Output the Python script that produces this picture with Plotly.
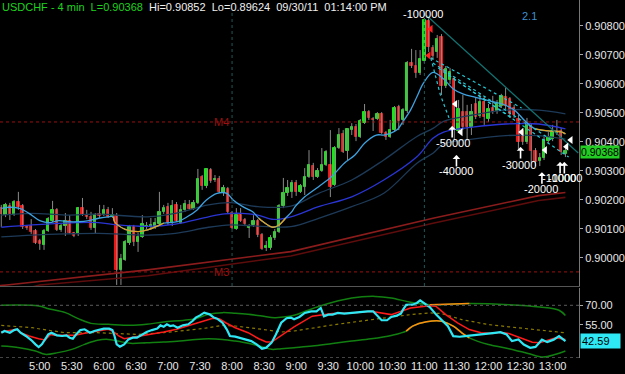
import plotly.graph_objects as go
from datetime import datetime, timedelta

DAY = "2011-09-30"

# ---------------- price bars (4-min, first bar 04:24) ----------------
first_bar = datetime(2011, 9, 30, 4, 24)
bar_minutes = 4

opens = [0.90171,0.90147,0.90178,0.90147,0.90192,0.90178,0.90109,0.90109,0.90092,0.90058,
         0.90044,0.90092,0.90127,0.90165,0.90096,0.90109,0.90127,0.90085,0.90082,0.90171,
         0.90147,0.90140,0.90102,0.90151,0.90147,0.90165,0.90144,0.90144,0.89958,0.89992,
         0.90051,0.90106,0.90054,0.90071,0.90106,0.90106,0.90106,0.90116,0.90158,0.90175,
         0.90120,0.90182,0.90120,0.90165,0.90182,0.90168,0.90189,0.90278,0.90247,0.90302,
         0.90268,0.90271,0.90223,0.90237,0.90154,0.90099,0.90147,0.90130,0.90102,0.90113,
         0.90127,0.90078,0.90034,0.90034,0.90068,0.90089,0.90178,0.90223,0.90227,0.90258,
         0.90227,0.90244,0.90278,0.90316,0.90278,0.90299,0.90320,0.90320,0.90251,0.90378,
         0.90427,0.90368,0.90440,0.90451,0.90416,0.90464,0.90502,0.90478,0.90478,0.90496,
         0.90430,0.90416,0.90440,0.90520,0.90475,0.90506,0.90671,0.90661,0.90637,0.90678,
         0.90816,0.90723,0.90709,0.90761,0.90592,0.90613,0.90616,0.90437,0.90502,0.90502,
         0.90451,0.90530,0.90489,0.90537,0.90478,0.90516,0.90506,0.90523,0.90554,0.90547,
         0.90516,0.90478,0.90437,0.90399,0.90454,0.90368,0.90334,0.90344,0.90402,0.90409,
         0.90430,0.90437,0.90358]
highs = [0.90182,0.90189,0.90189,0.90199,0.90227,0.90185,0.90113,0.90133,0.90099,0.90065,
         0.90099,0.90140,0.90196,0.90171,0.90116,0.90154,0.90147,0.90089,0.90175,0.90206,
         0.90165,0.90158,0.90154,0.90182,0.90182,0.90175,0.90171,0.90154,0.90013,0.90061,
         0.90113,0.90113,0.90085,0.90147,0.90123,0.90137,0.90137,0.90227,0.90182,0.90189,
         0.90199,0.90192,0.90182,0.90199,0.90199,0.90199,0.90306,0.90285,0.90309,0.90309,
         0.90285,0.90282,0.90251,0.90244,0.90161,0.90171,0.90171,0.90137,0.90116,0.90147,
         0.90133,0.90085,0.90058,0.90078,0.90099,0.90185,0.90275,0.90268,0.90268,0.90268,
         0.90254,0.90309,0.90371,0.90327,0.90309,0.90378,0.90371,0.90440,0.90385,0.90447,
         0.90440,0.90447,0.90464,0.90461,0.90478,0.90530,0.90509,0.90485,0.90502,0.90502,
         0.90437,0.90475,0.90523,0.90527,0.90516,0.90678,0.90720,0.90716,0.90716,0.90826,
         0.90826,0.90733,0.90768,0.90771,0.90661,0.90654,0.90623,0.90544,0.90561,0.90527,
         0.90530,0.90551,0.90568,0.90554,0.90530,0.90558,0.90544,0.90565,0.90585,0.90554,
         0.90527,0.90492,0.90447,0.90482,0.90464,0.90378,0.90361,0.90423,0.90433,0.90458,
         0.90475,0.90447,0.90389]
lows = [0.90106,0.90140,0.90130,0.90144,0.90165,0.90099,0.90096,0.90082,0.90047,0.90027,
        0.90027,0.90089,0.90123,0.90092,0.90089,0.90075,0.90082,0.90071,0.90075,0.90144,
        0.90133,0.90096,0.90085,0.90137,0.90144,0.90137,0.90137,0.89906,0.89906,0.89989,
        0.90044,0.90040,0.90020,0.90068,0.90099,0.90102,0.90099,0.90109,0.90151,0.90113,
        0.90109,0.90123,0.90116,0.90158,0.90165,0.90165,0.90185,0.90234,0.90240,0.90258,
        0.90261,0.90223,0.90213,0.90154,0.90099,0.90096,0.90123,0.90109,0.90068,0.90106,
        0.90071,0.90027,0.90023,0.90027,0.90061,0.90085,0.90171,0.90213,0.90206,0.90213,
        0.90223,0.90216,0.90275,0.90268,0.90275,0.90296,0.90316,0.90209,0.90247,0.90375,
        0.90361,0.90337,0.90423,0.90402,0.90413,0.90461,0.90475,0.90437,0.90475,0.90427,
        0.90406,0.90413,0.90437,0.90440,0.90458,0.90499,0.90654,0.90620,0.90630,0.90671,
        0.90709,0.90682,0.90689,0.90561,0.90585,0.90599,0.90406,0.90430,0.90440,0.90406,
        0.90423,0.90478,0.90482,0.90458,0.90468,0.90496,0.90496,0.90516,0.90509,0.90482,
        0.90482,0.90371,0.90389,0.90392,0.90327,0.90316,0.90316,0.90337,0.90396,0.90402,
        0.90423,0.90354,0.90347]
closes = [0.90151,0.90182,0.90147,0.90192,0.90175,0.90106,0.90102,0.90089,0.90051,0.90047,
          0.90092,0.90133,0.90165,0.90096,0.90109,0.90127,0.90085,0.90075,0.90171,0.90147,
          0.90140,0.90102,0.90147,0.90144,0.90165,0.90140,0.90147,0.89958,0.89996,0.90054,
          0.90106,0.90054,0.90071,0.90116,0.90109,0.90113,0.90120,0.90158,0.90171,0.90120,
          0.90178,0.90127,0.90165,0.90185,0.90168,0.90189,0.90271,0.90247,0.90306,0.90265,
          0.90271,0.90227,0.90240,0.90158,0.90102,0.90147,0.90127,0.90116,0.90109,0.90127,
          0.90078,0.90030,0.90040,0.90068,0.90089,0.90178,0.90223,0.90240,0.90258,0.90227,
          0.90247,0.90278,0.90320,0.90278,0.90299,0.90320,0.90365,0.90244,0.90378,0.90423,
          0.90365,0.90444,0.90451,0.90416,0.90471,0.90502,0.90482,0.90475,0.90496,0.90430,
          0.90416,0.90440,0.90516,0.90471,0.90509,0.90671,0.90661,0.90637,0.90685,0.90820,
          0.90727,0.90696,0.90754,0.90592,0.90651,0.90640,0.90444,0.90513,0.90451,0.90451,
          0.90502,0.90485,0.90537,0.90485,0.90513,0.90502,0.90530,0.90558,0.90523,0.90496,
          0.90492,0.90399,0.90399,0.90461,0.90368,0.90330,0.90344,0.90406,0.90416,0.90437,
          0.90433,0.90365,0.90368]

# ---------------- overlay lines on price panel ----------------
fast_t = ["04:24","04:32","04:41","04:50","05:00","05:09","05:18","05:27","05:36","05:46","05:55",
          "06:04","06:09","06:10","06:20","06:32","06:41","06:50","06:56","07:09","07:18","07:27",
          "07:36","07:46","07:55","08:01","08:10","08:19","08:25","08:29","08:38","08:44","08:50",
          "08:56","08:59","09:08","09:21","09:33","09:45","09:55","10:04","10:15","10:22","10:28",
          "10:35","10:39","10:47","10:53","10:59","11:08","11:18","11:27","11:36","11:48","12:01",
          "12:13","12:25","12:34","12:44","12:56","13:08","13:12"]
fast_v = [0.90170,0.90174,0.90170,0.90153,0.90128,0.90121,0.90128,0.90124,0.90124,0.90128,0.90136,
          0.90141,0.90141,0.90124,0.90098,0.90090,0.90096,0.90109,0.90119,0.90124,0.90141,0.90164,
          0.90199,0.90222,0.90222,0.90199,0.90176,0.90159,0.90136,0.90124,0.90105,0.90113,0.90136,
          0.90159,0.90176,0.90210,0.90245,0.90279,0.90326,0.90354,0.90395,0.90423,0.90423,0.90429,
          0.90443,0.90464,0.90509,0.90555,0.90601,0.90639,0.90616,0.90582,0.90565,0.90553,0.90541,
          0.90530,0.90507,0.90472,0.90444,0.90437,0.90434,0.90427]
fast_falling = [("06:09", "06:56"), ("08:25", "08:50"), ("12:44", "13:12")]

mid_t = ["04:24","04:53","05:24","05:55","06:13","06:41","07:07","07:38","07:53","08:09","08:24",
         "08:39","08:55","09:21","09:52","10:22","10:53","11:08","11:18","11:45","12:16","12:47","13:12"]
mid_v = [0.90105,0.90113,0.90119,0.90121,0.90113,0.90108,0.90116,0.90141,0.90151,0.90153,0.90147,
         0.90132,0.90141,0.90176,0.90210,0.90268,0.90348,0.90412,0.90433,0.90450,0.90461,0.90461,0.90444]
band_t = ["04:24","04:53","05:24","05:55","06:41","07:07","07:38","07:59","08:24","08:55","09:21",
          "09:52","10:22","10:53","11:08","11:18","11:45","12:16","12:47","13:12"]
band_up = [0.90147,0.90153,0.90147,0.90150,0.90141,0.90153,0.90182,0.90190,0.90176,0.90178,0.90222,
           0.90268,0.90337,0.90418,0.90446,0.90470,0.90492,0.90509,0.90509,0.90496]
band_lo = [0.90072,0.90078,0.90082,0.90084,0.90078,0.90084,0.90105,0.90113,0.90109,0.90107,0.90136,
           0.90176,0.90222,0.90326,0.90360,0.90392,0.90409,0.90421,0.90421,0.90409]

slow1_t = ["04:10","04:29","06:41","08:55","11:08","12:47","13:12"]
slow1_v = [0.89899,0.89906,0.89958,0.90021,0.90136,0.90214,0.90225]
slow2_t = ["04:53","05:00","06:41","08:55","11:08","12:47","13:12"]
slow2_v = [0.89899,0.89906,0.89938,0.90006,0.90119,0.90197,0.90208]

trend_t = ["11:02", "13:24"]
trend_v = [0.90835, 0.90361]
fan_lines = [
    (["11:06", "12:31"], [0.90689, 0.90516]),
    (["11:08", "12:59"], [0.90671, 0.90406]),
    (["11:13", "13:15"], [0.90654, 0.90347]),
    (["11:18", "12:22"], [0.90640, 0.90482]),
    (["11:06", "11:15", "11:23"], [0.90689, 0.90561, 0.90482]),
]

level_m4 = 0.90468
level_m3 = 0.89951

# trade markers
exit_t = ["11:29", "11:34", "12:31", "12:53", "13:13", "13:17"]
exit_v = [0.90530, 0.90433, 0.90433, 0.90371, 0.90383, 0.90406]
entry_t = ["11:06", "11:04"]
entry_v = [0.90789, 0.90697]
arrow_t = ["11:26", "11:30", "12:30", "12:50", "13:07", "13:11"]
arrow_v = [0.90454, 0.90354, 0.90382, 0.90295, 0.90330, 0.90330]
label_text = ["-100000", "-50000", "-40000", "-30000", "-20000", "-10000", "-10000"]
label_t = ["10:59", "11:27", "11:30", "12:29", "12:49", "13:06", "13:12"]
label_v = [0.90840, 0.90395, 0.90299, 0.90320, 0.90237, 0.90275, 0.90275]

# ---------------- oscillator panel ----------------
rsi_t = ["04:24","04:27","04:32","04:36","04:39","04:42","04:47","04:52","04:56","04:59","05:02",
         "05:05","05:08","05:11","05:16","05:21","05:25","05:28","05:31","05:34","05:38","05:42",
         "05:47","05:51","05:56","06:00","06:05","06:08","06:10","06:12","06:15","06:19","06:23",
         "06:27","06:31","06:36","06:40","06:45","06:50","06:53","06:56","06:59","07:02","07:05",
         "07:09","07:14","07:19","07:23","07:26","07:30","07:34","07:39","07:43","07:46","07:51",
         "07:55","07:58","08:03","08:09","08:14","08:18","08:23","08:28","08:32","08:37","08:41",
         "08:46","08:51","08:55","08:58","09:03","09:08","09:14","09:19","09:23","09:26","09:30",
         "09:34","09:39","09:45","09:50","09:56","10:01","10:07","10:12","10:16","10:20","10:25",
         "10:29","10:34","10:38","10:40","10:43","10:49","10:53","10:56","11:00","11:05","11:11",
         "11:16","11:22","11:27","11:33","11:38","11:44","11:49","11:55","12:00","12:06","12:11",
         "12:17","12:22","12:28","12:33","12:39","12:44","12:50","12:55","13:01","13:06","13:12"]
rsi_v = [49.1,50.4,49.1,51.1,51.7,49.1,46.6,43.5,40.2,38.2,40.2,
         44.0,47.8,49.1,47.1,46.6,47.1,45.3,44.5,47.8,51.1,51.7,
         49.1,50.4,51.1,52.2,52.2,51.1,46.6,40.2,38.4,40.2,44.0,
         45.3,45.3,47.8,49.6,51.1,52.2,54.7,53.7,55.5,54.2,54.7,
         52.9,54.7,55.5,58.0,60.6,62.3,64.4,63.1,60.6,59.8,56.7,
         51.7,46.6,46.1,44.5,43.5,42.7,40.2,36.9,37.7,41.5,47.8,
         56.7,60.1,60.6,59.3,61.1,64.2,65.4,65.4,68.0,61.6,62.9,
         62.9,64.2,63.7,64.2,64.7,65.2,65.4,65.4,61.6,58.6,58.6,
         61.1,62.1,63.7,66.7,70.3,70.5,71.8,73.8,71.3,68.7,62.9,
         59.1,54.1,46.5,46.0,46.5,47.0,47.0,47.7,48.5,49.0,49.5,
         47.7,42.7,44.0,40.1,37.6,38.3,43.8,41.9,43.8,46.5,42.59]
sig_t = ["04:24","04:29","04:38","04:42","04:50","04:59","05:05","05:10","05:14","05:24","05:33",
         "05:42","05:54","06:04","06:08","06:14","06:19","06:25","06:34","06:43","06:56","07:08",
         "07:20","07:32","07:42","07:48","07:54","08:03","08:15","08:25","08:32","08:37","08:43",
         "08:52","08:58","09:15","09:34","09:52","10:10","10:29","10:47","11:05","11:11","11:20",
         "11:31","11:42","11:53","12:04","12:11","12:19","12:30","12:41","12:48","12:55","13:03","13:12"]
sig_v = [49.6,50.4,51.7,49.1,46.6,44.5,43.5,47.8,47.1,47.1,47.1,
         48.6,50.4,51.7,50.4,46.6,44.5,45.3,46.6,47.8,49.6,51.7,
         54.7,58.0,60.1,59.8,56.7,52.9,49.1,44.5,42.0,42.0,45.3,
         50.4,53.5,61.7,63.7,64.2,65.4,62.9,68.0,69.7,69.2,62.9,
         56.6,51.5,49.0,48.5,49.5,48.5,45.2,41.9,41.4,43.4,45.2,43.9]
bb_up_t = ["04:24","04:59","05:08","05:24","05:36","05:48","06:04","06:25","06:40","06:56","07:14",
           "07:26","07:38","07:51","08:03","08:15","08:28","08:40","08:52","08:58","09:23","09:52",
           "10:14","10:29","10:47","11:05","11:42","12:19","12:48","13:06","13:12"]
bb_up_v = [70.0,69.5,67.4,64.4,59.8,56.2,55.5,54.7,55.5,57.3,58.5,
           59.8,63.1,64.4,63.9,63.1,61.8,60.6,61.4,62.4,69.7,75.6,
           76.8,75.6,72.3,70.5,71.3,70.5,68.7,66.2,62.2]
bb_lo_t = ["04:24","04:41","04:56","05:05","05:17","05:30","05:42","05:54","06:04","06:13","06:25",
           "06:40","06:56","07:11","07:26","07:38","07:51","08:03","08:15","08:28","08:37","08:46",
           "08:58","09:15","09:34","09:52","10:10","10:29","10:43","10:49","11:02","11:16","11:27",
           "11:35","11:42","12:00","12:19","12:37","12:51","13:03","13:12"]
bb_lo_v = [38.9,37.7,35.2,32.6,33.9,36.4,40.2,43.3,44.0,42.7,41.0,
           41.5,42.0,42.7,44.0,44.5,44.0,42.7,41.0,38.4,36.4,36.9,
           37.7,38.9,40.9,42.7,44.4,47.0,50.3,54.1,57.4,57.9,54.1,
           49.0,45.2,40.1,36.9,33.3,30.5,32.6,35.1]
bb_expand_up = ("11:05", "11:42")
bb_expand_lo = ("10:43", "11:42")
bb_mid_t = ["04:24","04:53","05:02","05:24","05:54","06:13","06:31","06:56","07:14","07:32","07:51",
            "08:03","08:28","08:46","08:58","09:34","10:10","10:29","10:47","11:05","11:16","11:35",
            "12:00","12:19","12:55","13:12"]
bb_mid_v = [54.7,52.9,51.7,49.1,49.1,48.4,47.8,49.1,50.4,52.2,54.7,
            54.2,51.7,49.6,50.4,55.0,59.0,61.1,62.9,64.2,63.7,59.1,
            55.3,53.6,50.3,49.0]
osc_levels = [70, 30]

title_sym = "USDCHF - 4 min"
last_price = closes[-1]
hi_txt, lo_txt = "0.90852", "0.89624"
stamp = "09/30/11\u00a0\u00a001:14:00 PM"
x_ticks_from = "05:00"

# ---------------- helpers ----------------
def T(hm):
    h, m = hm.split(":")
    return f"{DAY} {int(h):02d}:{m}:00"

def Ts(lst):
    return [T(s) for s in lst]

def seg(ts, vs, a, b):
    xs, ys = [], []
    for t, v in zip(ts, vs):
        if T(a) <= T(t) <= T(b):
            xs.append(T(t)); ys.append(v)
    return xs, ys

bar_times = [first_bar + timedelta(minutes=bar_minutes * i) for i in range(len(opens))]

FONT = "Liberation Sans Narrow, Arial Narrow, Liberation Sans, Arial, sans-serif"
GREEN = "#19e619"
RED = "#ee1515"

fig = go.Figure()

# wicks
wx, wy = [], []
for t, h, l in zip(bar_times, highs, lows):
    wx += [t, t, None]
    wy += [l, h, None]
fig.add_trace(go.Scatter(x=wx, y=wy, mode="lines", line=dict(color="#8a8a8a", width=1),
                         hoverinfo="skip", xaxis="x", yaxis="y"))

# long red averages
fig.add_trace(go.Scatter(x=Ts(slow2_t), y=slow2_v, mode="lines", line=dict(color="#5e0c0c", width=1.6),
                         xaxis="x", yaxis="y"))
fig.add_trace(go.Scatter(x=Ts(slow1_t), y=slow1_v, mode="lines", line=dict(color="#8c1c1c", width=1.6),
                         xaxis="x", yaxis="y"))
# envelope bands & mid
for bv in (band_up, band_lo):
    fig.add_trace(go.Scatter(x=Ts(band_t), y=bv, mode="lines", line=dict(color="#1d3a58", width=1.3, shape="spline"),
                             xaxis="x", yaxis="y"))
fig.add_trace(go.Scatter(x=Ts(mid_t), y=mid_v, mode="lines", line=dict(color="#2a35d6", width=1.3, shape="spline"),
                         xaxis="x", yaxis="y"))

# bodies
body_col = [GREEN if c >= o else RED for o, c in zip(opens, closes)]
fig.add_trace(go.Bar(x=bar_times, y=[abs(c - o) for o, c in zip(opens, closes)],
                     base=[min(o, c) for o, c in zip(opens, closes)], width=2.4 * 60000 / 1.0851,
                     marker=dict(color=body_col, line=dict(color=body_col, width=1)),
                     xaxis="x", yaxis="y", hoverinfo="skip"))

# fast average
fig.add_trace(go.Scatter(x=Ts(fast_t), y=fast_v, mode="lines", line=dict(color="#3ea2e0", width=1.3, shape="spline"),
                         xaxis="x", yaxis="y"))
for a, b in fast_falling:
    xs, ys = seg(fast_t, fast_v, a, b)
    fig.add_trace(go.Scatter(x=xs, y=ys, mode="lines", line=dict(color="#e0a020", width=1.3, shape="spline"),
                             xaxis="x", yaxis="y"))

# trend & fan lines
fig.add_trace(go.Scatter(x=Ts(trend_t), y=trend_v, mode="lines", line=dict(color="#127272", width=1.2),
                         xaxis="x", yaxis="y"))
for ft, fv in fan_lines:
    fig.add_trace(go.Scatter(x=Ts(ft), y=fv, mode="lines", line=dict(color="#22c8d4", width=1.2, dash="dot"),
                             xaxis="x", yaxis="y"))

# trade markers
fig.add_trace(go.Scatter(x=Ts(exit_t), y=exit_v, mode="markers",
                         marker=dict(symbol="triangle-left", size=7, color="white"), xaxis="x", yaxis="y"))
fig.add_trace(go.Scatter(x=Ts(entry_t), y=entry_v, mode="markers",
                         marker=dict(symbol="triangle-left", size=7, color="#ff2020"), xaxis="x", yaxis="y"))

# oscillator
fig.add_trace(go.Scatter(x=Ts(bb_mid_t), y=bb_mid_v, mode="lines", line=dict(color="#8a7a00", width=1.2, dash="dot"),
                         xaxis="x2", yaxis="y2"))
fig.add_trace(go.Scatter(x=Ts(bb_up_t), y=bb_up_v, mode="lines", line=dict(color="#118011", width=1.5, shape="spline"),
                         xaxis="x2", yaxis="y2"))
fig.add_trace(go.Scatter(x=Ts(bb_lo_t), y=bb_lo_v, mode="lines", line=dict(color="#118011", width=1.5, shape="spline"),
                         xaxis="x2", yaxis="y2"))
for (ts, vs, rng) in ((bb_up_t, bb_up_v, bb_expand_up), (bb_lo_t, bb_lo_v, bb_expand_lo)):
    xs, ys = seg(ts, vs, *rng)
    fig.add_trace(go.Scatter(x=xs, y=ys, mode="lines", line=dict(color="#ff8c10", width=1.5, shape="spline"),
                             xaxis="x2", yaxis="y2"))
fig.add_trace(go.Scatter(x=Ts(sig_t), y=sig_v, mode="lines", line=dict(color="#ff1a1a", width=1.5),
                         xaxis="x2", yaxis="y2"))
fig.add_trace(go.Scatter(x=Ts(rsi_t), y=rsi_v, mode="lines", line=dict(color="#2ee8f5", width=2.2),
                         xaxis="x2", yaxis="y2"))

# ---------------- shapes ----------------
shapes = []
for hm in ("08:00", "11:00"):
    shapes.append(dict(type="line", xref="x", yref="y domain", x0=T(hm), x1=T(hm), y0=0, y1=0.955,
                       line=dict(color="#1f5757", width=1, dash="dot")))
for lv in (level_m4, level_m3):
    shapes.append(dict(type="line", xref="x domain", yref="y", x0=0, x1=1, y0=lv, y1=lv,
                       line=dict(color="#9a1010", width=1, dash="dot")))
for lv in osc_levels:
    shapes.append(dict(type="line", xref="x2 domain", yref="y2", x0=0, x1=1, y0=lv, y1=lv,
                       line=dict(color="#5a5a5a", width=1, dash="dot")))

# ---------------- annotations ----------------
ann = []
ann.append(dict(xref="paper", yref="paper", x=0, y=1, xanchor="left", yanchor="top", yshift=1, showarrow=False,
                text=(f'<span style="color:#1ed31e">{title_sym}\u00a0\u00a0L={last_price:.5f}</span>'
                      f'\u00a0\u00a0Hi={hi_txt}\u00a0\u00a0Lo={lo_txt}\u00a0\u00a0{stamp}'),
                font=dict(family=FONT, size=11, color="#f0f0f0")))
for txt, lv in (("M4", level_m4), ("M3", level_m3)):
    ann.append(dict(xref="x", yref="y", x=T("08:00"), y=lv, xanchor="right", yanchor="middle", xshift=-1,
                    showarrow=False, text=txt, font=dict(family=FONT, size=11, color="#9a1010")))
for t, v in zip(arrow_t, arrow_v):
    ann.append(dict(xref="x", yref="y", x=T(t), y=v, text="", showarrow=True, ax=0, ay=13,
                    arrowhead=1, arrowsize=0.8, arrowwidth=1.6, arrowcolor="white"))
for txt, t, v in zip(label_text, label_t, label_v):
    ann.append(dict(xref="x", yref="y", x=T(t), y=v, text=txt, showarrow=False,
                    font=dict(family=FONT, size=11, color="white")))
ann.append(dict(xref="x", yref="y", x=T("12:38"), y=0.90833, text="2.1", showarrow=False,
                font=dict(family=FONT, size=11, color="#3f8fd0")))
ann.append(dict(xref="paper", yref="y", x=1, y=last_price, xanchor="left", yanchor="middle", xshift=1,
                yshift=-1, showarrow=False, text=f"{last_price:.5f}", bgcolor="#22cc22", borderpad=0,
                font=dict(family=FONT, size=10.5, color="black")))
ann.append(dict(xref="paper", yref="y2", x=1, y=rsi_v[-1], xanchor="left", yanchor="middle", xshift=1,
                showarrow=False, text=f"{rsi_v[-1]:.2f}\u00a0\u00a0\u00a0", bgcolor="#2ee8f5", borderpad=1,
                font=dict(family=FONT, size=11, color="black")))

x_range = [f"{DAY} 04:22:48", f"{DAY} 13:24:42"]
axis_font = dict(family=FONT, size=11, color="#e8e8e8")

fig.update_layout(
    width=625, height=374, margin=dict(l=0, r=37, t=0, b=16),
    paper_bgcolor="black", plot_bgcolor="black", showlegend=False, bargap=0,
    shapes=shapes, annotations=ann,
    xaxis=dict(domain=[0, 1], anchor="y", type="date", range=x_range, showticklabels=False,
               showgrid=False, zeroline=False, showline=True, linecolor="#555555", linewidth=1, ticks=""),
    xaxis2=dict(domain=[0, 1], anchor="y2", type="date", range=x_range, matches="x",
                tickformat="%-H:%M", tick0=T(x_ticks_from), dtick=30 * 60 * 1000,
                tickfont=axis_font, showgrid=False, zeroline=False, showline=False, ticks=""),
    yaxis=dict(domain=[1 - 286 / 358, 1], anchor="x", side="right", range=[0.899024, 0.908886],
               tickvals=[0.900 + 0.001 * i for i in range(9)], tickformat=".5f", tickfont=axis_font,
               ticks="outside", ticklen=3, tickcolor="#aaaaaa", showgrid=False, zeroline=False,
               showline=True, linecolor="#777777", linewidth=1),
    yaxis2=dict(domain=[0, 1 - 288 / 358], anchor="x2", side="right", range=[29.8, 83.2],
                tickvals=[55, 70], tickformat=".2f", tickfont=axis_font,
                ticks="outside", ticklen=3, tickcolor="#aaaaaa", showgrid=False, zeroline=False,
                showline=True, linecolor="#777777", linewidth=1),
)

fig.write_html("out.html")
